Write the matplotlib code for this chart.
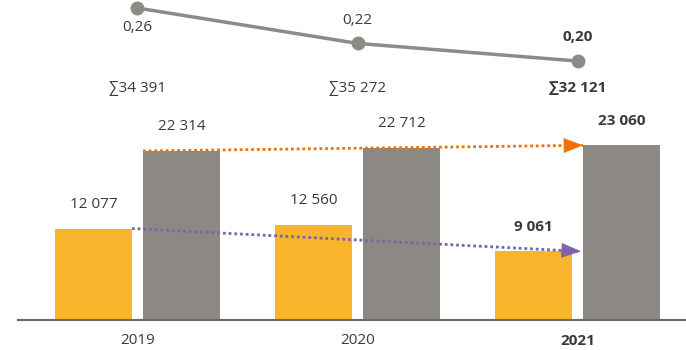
import matplotlib
matplotlib.use("Agg")
import matplotlib.pyplot as plt
from matplotlib.transforms import blended_transform_factory

plt.rcParams['font.family'] = ['Open Sans', 'DejaVu Sans']

# данные
years = ['2019', '2020', '2021']
yellow_vals = [12077, 12560, 9061]
gray_vals = [22314, 22712, 23060]
ratio_vals = [0.26, 0.22, 0.20]
ratio_labels = ['0,26', '0,22', '0,20']

YELLOW = '#F8B42A'
GRAY = '#8C8884'
LINE_GRAY = '#8E8B87'
ORANGE = '#EE7203'
PURPLE = '#7F62A9'
TEXT = '#3a3a3a'


def fmt(v):
    return f"{v:,}".replace(',', ' ')


fig = plt.figure(figsize=(6.86, 3.5), dpi=100)
ax = fig.add_axes([18 / 686, 30 / 350, 668 / 686, 320 / 350])

x = list(range(len(years)))
w = 0.35
off = 0.2
xy = [i - off for i in x]
xg = [i + off for i in x]
ax.bar(xy, yellow_vals, width=w, color=YELLOW, zorder=2)
ax.bar(xg, gray_vals, width=w, color=GRAY, zorder=2)

ax.set_xlim(-0.543, 2.493)
ax.set_ylim(0, 42240)
for s in ['top', 'right', 'left']:
    ax.spines[s].set_visible(False)
ax.spines['bottom'].set_color('#6b6b6b')
ax.spines['bottom'].set_linewidth(1.5)
ax.set_yticks([])
ax.set_xticks([])

sum_tr = blended_transform_factory(ax.transData, fig.transFigure)
last = len(years) - 1
for i in x:
    wt = 'bold' if i == last else 'normal'
    ax.annotate(fmt(yellow_vals[i]), (xy[i], yellow_vals[i]), xytext=(0, 24),
                textcoords='offset pixels', ha='center', va='center',
                fontsize=11, color=TEXT, weight=wt)
    ax.annotate(fmt(gray_vals[i]), (xg[i], gray_vals[i]), xytext=(0, 24),
                textcoords='offset pixels', ha='center', va='center',
                fontsize=11, color=TEXT, weight=wt)
    ax.annotate(years[i], (i, 0), xytext=(0, -21), textcoords='offset pixels',
                ha='center', va='center', fontsize=11, color=TEXT, weight=wt)
    total = yellow_vals[i] + gray_vals[i]
    ax.text(i, 1 - 88 / 350, '∑' + fmt(total), transform=sum_tr,
            ha='center', va='center', fontsize=11, color=TEXT, weight=wt)


# стрелки тренда: пунктир + сплошной наконечник
def trend_arrow(x0, y0, x1, y1, color):
    ax.plot([x0, x1], [y0, y1], color=color, lw=2, linestyle=(0, (1, 1.05)),
            zorder=3)
    t = 0.085 / (x1 - x0)
    xs, ys = x1 - t * (x1 - x0), y1 - t * (y1 - y0)
    ax.annotate('', xy=(x1, y1), xytext=(xs, ys),
                arrowprops=dict(arrowstyle='-|>,head_length=1.3,head_width=0.5',
                                color=color, lw=0.5, shrinkA=0, shrinkB=0),
                zorder=4)


trend_arrow(xg[0] - w / 2, gray_vals[0], xg[last] - w / 2, gray_vals[last], ORANGE)
trend_arrow(xy[0] + w / 2, yellow_vals[0], xy[last] + w / 2 + 0.04,
            yellow_vals[last], PURPLE)

# линия коэффициента
ax2 = fig.add_axes([18 / 686, 0, 668 / 686, 1])
ax2.set_xlim(ax.get_xlim())
ax2.set_ylim(-0.1271, 0.2691)
ax2.axis('off')
ax2.plot(x, ratio_vals, color=LINE_GRAY, lw=2.5, marker='o', markersize=9,
         zorder=3)
label_offsets = [-19, 23, 24]
for i in x:
    wt = 'bold' if i == last else 'normal'
    ax2.annotate(ratio_labels[i], (x[i], ratio_vals[i]),
                 xytext=(0, label_offsets[i]), textcoords='offset pixels',
                 ha='center', va='center', fontsize=11, color=TEXT, weight=wt)

fig.savefig('out.png', dpi=100)
